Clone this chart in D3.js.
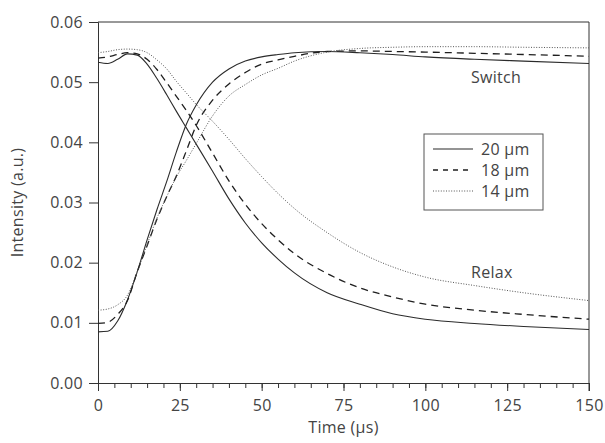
<!DOCTYPE html>
<html>
<head>
<meta charset="utf-8">
<script src="https://cdn.jsdelivr.net/npm/d3@7"></script>
<style>
  body { margin: 0; background: #fff; }
  svg text { font-family: "Open Sans", sans-serif; fill: #444; letter-spacing: 0.3px; }
</style>
</head>
<body>
<div id="chart"></div>
<script>
// time grid (µs) shared by all curves
const time = [0, 3, 6, 9, 12, 15, 18, 21, 24, 27, 30, 35, 40, 45, 50, 55, 60, 70, 80, 90, 100, 115, 130, 150];

// switch curves (rising)
const switch20 = [0.0085, 0.0086, 0.0103, 0.0138, 0.0185, 0.0238, 0.0288, 0.0335, 0.0385, 0.0430, 0.0462, 0.0500, 0.0522, 0.0535, 0.0542, 0.0546, 0.0549, 0.0551, 0.0549, 0.0546, 0.0542, 0.0538, 0.0535, 0.0531];
const switch18 = [0.0099, 0.0101, 0.0114, 0.0137, 0.0185, 0.0228, 0.0272, 0.0310, 0.0345, 0.0386, 0.0428, 0.0470, 0.0497, 0.0516, 0.0530, 0.0537, 0.0543, 0.0551, 0.0552, 0.0551, 0.0550, 0.0548, 0.0546, 0.0543];
const switch14 = [0.0121, 0.0123, 0.0130, 0.0146, 0.0185, 0.0230, 0.0274, 0.0310, 0.0343, 0.0370, 0.0398, 0.0444, 0.0477, 0.0496, 0.0512, 0.0523, 0.0535, 0.0550, 0.0556, 0.0558, 0.0559, 0.0559, 0.0558, 0.0557];

// relax curves (falling)
const relax20 = [0.0533, 0.0531, 0.0538, 0.0547, 0.0545, 0.0530, 0.0506, 0.0479, 0.0451, 0.0424, 0.0397, 0.0352, 0.0306, 0.0266, 0.0233, 0.0206, 0.0183, 0.0150, 0.0131, 0.0115, 0.0106, 0.0099, 0.0094, 0.0089];
const relax18 = [0.0540, 0.0542, 0.0546, 0.0549, 0.0547, 0.0538, 0.0521, 0.0499, 0.0476, 0.0453, 0.0428, 0.0382, 0.0336, 0.0297, 0.0265, 0.0238, 0.0215, 0.0182, 0.0158, 0.0143, 0.0131, 0.0121, 0.0114, 0.0106];
const relax14 = [0.0549, 0.0551, 0.0554, 0.0555, 0.0554, 0.0549, 0.0537, 0.0522, 0.0501, 0.0482, 0.0463, 0.0435, 0.0405, 0.0373, 0.0343, 0.0315, 0.0290, 0.0250, 0.0217, 0.0193, 0.0176, 0.0162, 0.0150, 0.0137];

const legendNames = ['20 µm', '18 µm', '14 µm'];
const xTicks = [0, 25, 50, 75, 100, 125, 150];
const xMinor = d3.range(0, 151, 5);
const yTicks = [0, 0.01, 0.02, 0.03, 0.04, 0.05, 0.06];

const MARGIN = {TOP: 22, BOTTOM: 60, LEFT: 98, RIGHT: 16};
const WIDTH = 605 - MARGIN.LEFT - MARGIN.RIGHT;
const HEIGHT = 443 - MARGIN.TOP - MARGIN.BOTTOM;
const FS = 16;

// line styles per thickness
const styles = [
  {dash: null, color: '#2b2b2b', width: 1.1},
  {dash: '7,5', color: '#1f1f1f', width: 1.3},
  {dash: '1,1.6', color: '#555', width: 1}
];

const series = [
  {vals: switch20, s: 0}, {vals: switch18, s: 1}, {vals: switch14, s: 2},
  {vals: relax20, s: 0}, {vals: relax18, s: 1}, {vals: relax14, s: 2}
];

const svg = d3.select('#chart')
  .append('svg')
    .attr('width', 605)
    .attr('height', 443)
  .append('g')
    .attr('transform', `translate(${MARGIN.LEFT}, ${MARGIN.TOP})`);

const x = d3.scaleLinear().domain([0, 150]).range([0, WIDTH]);
const y = d3.scaleLinear().domain([0, 0.06]).range([HEIGHT, 0]);

// minor x ticks
svg.append('g')
  .attr('transform', `translate(0, ${HEIGHT})`)
  .call(d3.axisBottom(x).tickValues(xMinor).tickSize(5).tickFormat(''))
  .call(g => g.select('.domain').remove())
  .call(g => g.selectAll('line').attr('stroke', '#333'));

// major x axis
svg.append('g')
  .attr('transform', `translate(0, ${HEIGHT})`)
  .call(d3.axisBottom(x).tickValues(xTicks).tickSize(8).tickPadding(9).tickFormat(d3.format('d')))
  .call(g => g.select('.domain').attr('stroke', '#333'))
  .call(g => g.selectAll('line').attr('stroke', '#333'))
  .call(g => g.selectAll('text').attr('font-size', FS).attr('fill', '#444').style('font-family', '"Open Sans", sans-serif'));

// y axis
svg.append('g')
  .call(d3.axisLeft(y).tickValues(yTicks).tickSize(9).tickPadding(6).tickFormat(d3.format('.2f')))
  .call(g => g.select('.domain').attr('stroke', '#333'))
  .call(g => g.selectAll('line').attr('stroke', '#333'))
  .call(g => g.selectAll('text').attr('font-size', FS).attr('fill', '#444').style('font-family', '"Open Sans", sans-serif'));

// top and right frame
svg.append('line')
  .attr('x1', 0).attr('x2', WIDTH).attr('y1', 0).attr('y2', 0)
  .attr('stroke', '#333');
svg.append('line')
  .attr('x1', WIDTH).attr('x2', WIDTH).attr('y1', 0).attr('y2', HEIGHT + 8)
  .attr('stroke', '#333');

const line = d3.line()
  .x((d, i) => x(time[i]))
  .y(d => y(d))
  .curve(d3.curveMonotoneX);

svg.selectAll('path.curve')
  .data(series)
  .enter().append('path')
    .attr('class', 'curve')
    .attr('d', d => line(d.vals))
    .attr('fill', 'none')
    .attr('stroke', d => styles[d.s].color)
    .attr('stroke-width', d => styles[d.s].width)
    .attr('stroke-dasharray', d => styles[d.s].dash);

// labels on curves
svg.append('text')
  .attr('x', 373).attr('y', 61)
  .attr('font-size', FS)
  .text('Switch');
svg.append('text')
  .attr('x', 373).attr('y', 256)
  .attr('font-size', FS)
  .text('Relax');

// legend
const legend = svg.append('g')
  .attr('transform', 'translate(326, 112)');
legend.append('rect')
  .attr('width', 119).attr('height', 76)
  .attr('fill', '#fff')
  .attr('stroke', '#555');
legendNames.forEach((name, i) => {
  legend.append('line')
    .attr('x1', 9).attr('x2', 49)
    .attr('y1', 15 + i * 21).attr('y2', 15 + i * 21)
    .attr('stroke', styles[i].color)
    .attr('stroke-width', styles[i].width)
    .attr('stroke-dasharray', i === 1 ? '5,5' : styles[i].dash);
  legend.append('text')
    .attr('x', 57).attr('y', 21 + i * 21)
    .attr('font-size', FS)
    .text(name);
});

// axis titles
svg.append('text')
  .attr('x', WIDTH / 2).attr('y', HEIGHT + 50)
  .attr('text-anchor', 'middle')
  .attr('font-size', FS)
  .text('Time (µs)');

svg.append('text')
  .attr('x', -HEIGHT / 2).attr('y', -75)
  .attr('text-anchor', 'middle')
  .attr('transform', 'rotate(-90)')
  .attr('font-size', FS)
  .text('Intensity (a.u.)');
</script>
</body>
</html>
